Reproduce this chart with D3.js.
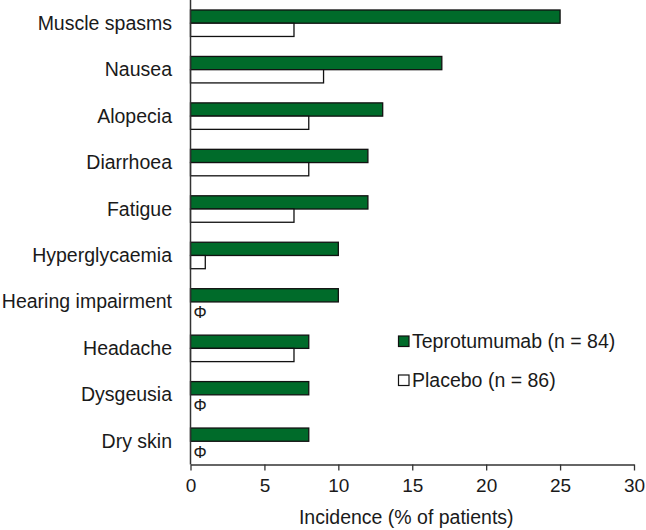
<!DOCTYPE html>
<html><head><meta charset="utf-8">
<script src="https://cdn.jsdelivr.net/npm/d3@7"></script>
<style>body{margin:0;background:#fff}svg{display:block}text{font-family:"Liberation Sans",Arial,sans-serif;fill:#1a1a1a}</style>
</head><body><svg id="c" width="646" height="530"></svg>
<script>
const categories = ["Muscle spasms","Nausea","Alopecia","Diarrhoea","Fatigue","Hyperglycaemia","Hearing impairment","Headache","Dysgeusia","Dry skin"];
const teprotumumab = [25,17,13,12,12,10,10,8,8,8];
const placebo = [7,9,8,8,7,1,0,7,0,0];
const seriesNames = ["Teprotumumab (n = 84)","Placebo (n = 86)"];
const xTicks = [0,5,10,15,20,25,30];
const xLabel = "Incidence (% of patients)";

const svg = d3.select("#c");
const green = "#006b2a";
const x = d3.scaleLinear().domain([0,30]).range([190.5,634]);
const y = d3.scaleBand().domain(categories).range([0,464.5]).paddingInner(0.43).paddingOuter(0.215);
const sub = d3.scaleBand().domain(["t","p"]).range([0,y.bandwidth()]);

const rows = categories.map((c,i)=>({c, t:teprotumumab[i], p:placebo[i]}));

const g = svg.append("g");
rows.forEach(r=>{
  const y0 = y(r.c);
  g.append("rect").attr("x",x(0)).attr("y",y0+sub("t")).attr("width",x(r.t)-x(0)).attr("height",sub.bandwidth())
    .attr("fill",green).attr("stroke","#111").attr("stroke-width",1.3);
  if(r.p>0){
    g.append("rect").attr("x",x(0)).attr("y",y0+sub("p")).attr("width",x(r.p)-x(0)).attr("height",sub.bandwidth())
      .attr("fill","#fff").attr("stroke","#111").attr("stroke-width",1.3);
  } else {
    g.append("text").attr("x",x(0)+3).attr("y",y0+sub("p")+sub.bandwidth()+3)
      .attr("font-size",16.5).attr("fill","#111").text("Φ");
  }
  svg.append("text").attr("x",172).attr("y",y0+y.bandwidth()/2+6.5).attr("text-anchor","end")
    .attr("font-size",19.5).text(r.c);
});

// y axis line
svg.append("line").attr("x1",x(0)).attr("x2",x(0)).attr("y1",0).attr("y2",464.5).attr("stroke","#333").attr("stroke-width",1.5);

// x axis
const xa = svg.append("g").attr("transform","translate(0,464.5)")
  .call(d3.axisBottom(x).tickValues(xTicks).tickSize(6).tickPadding(8).tickSizeOuter(0));
xa.select(".domain").attr("stroke","#333").attr("stroke-width",1.5);
xa.selectAll(".tick line").attr("stroke","#333").attr("stroke-width",1.3);
xa.selectAll(".tick text").attr("font-size",19).attr("font-family","Liberation Sans, Arial, sans-serif").attr("fill","#1a1a1a");

svg.append("text").attr("x",(x(0)+x(30))/2-6).attr("y",524).attr("text-anchor","middle").attr("font-size",19.5).text(xLabel);

// legend
const leg = [{n:seriesNames[0],f:green,y:336},{n:seriesNames[1],f:"#fff",y:375}];
leg.forEach(l=>{
  svg.append("rect").attr("x",398.5).attr("y",l.y).attr("width",10.5).attr("height",10.5)
    .attr("fill",l.f).attr("stroke","#111").attr("stroke-width",1.2);
  svg.append("text").attr("x",412).attr("y",l.y+11.5).attr("font-size",19.5).text(l.n);
});
</script></body></html>
